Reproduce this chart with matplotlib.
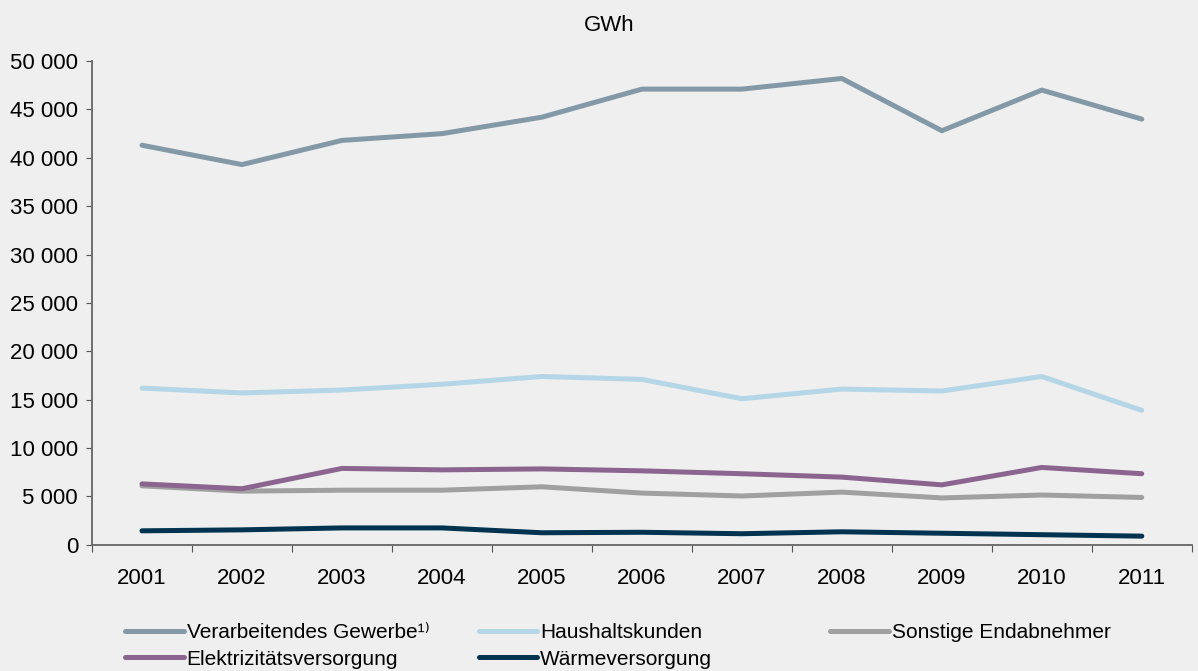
import matplotlib.pyplot as plt
from matplotlib.ticker import FuncFormatter, FixedLocator

plt.rcParams['font.family'] = ['Liberation Sans', 'DejaVu Sans']

years = ['2001', '2002', '2003', '2004', '2005', '2006',
         '2007', '2008', '2009', '2010', '2011']

verarbeitend = [41300, 39300, 41800, 42500, 44200, 47100, 47100, 48200, 42800, 47000, 44000]
haushalt = [16200, 15700, 16000, 16600, 17400, 17100, 15100, 16100, 15900, 17400, 13900]
sonstige = [6100, 5550, 5650, 5650, 6000, 5350, 5050, 5450, 4850, 5150, 4900]
elektrizitaet = [6300, 5800, 7900, 7750, 7850, 7650, 7350, 7000, 6200, 8000, 7350]
waerme = [1450, 1550, 1750, 1750, 1250, 1300, 1150, 1350, 1200, 1050, 900]

bg = '#eeefee'
fig = plt.figure(figsize=(11.98, 6.71), dpi=100, facecolor=bg)
ax = fig.add_axes([0.0768, 0.188, 0.918, 0.721], facecolor=bg)

x = list(range(len(years)))
lw = 3.6
l1, = ax.plot(x, verarbeitend, color='#8499a7', lw=lw, solid_capstyle='round')
l2, = ax.plot(x, haushalt, color='#b4d6e6', lw=lw, solid_capstyle='round')
l3, = ax.plot(x, sonstige, color='#a0a0a0', lw=lw, solid_capstyle='round')
l4, = ax.plot(x, elektrizitaet, color='#8c6490', lw=lw, solid_capstyle='round')
l5, = ax.plot(x, waerme, color='#00334f', lw=lw, solid_capstyle='round')

ax.set_xlim(-0.5, len(years) - 0.5)
ax.set_ylim(0, 50000)
ax.set_yticks(range(0, 50001, 5000))
ax.yaxis.set_major_formatter(FuncFormatter(lambda v, p: f'{int(v):,}'.replace(',', ' ')))

ax.xaxis.set_major_locator(FixedLocator([i - 0.5 for i in range(len(years) + 1)]))
ax.xaxis.set_major_formatter(FuncFormatter(lambda v, p: ''))
ax.set_xticks(x, minor=True)
ax.set_xticklabels(years, minor=True)
ax.tick_params(axis='x', which='minor', length=0, pad=17, labelsize=16)
ax.tick_params(axis='x', which='major', length=5, color='#555555', direction='out')
ax.tick_params(axis='y', length=4, color='#555555', direction='out', labelsize=16, pad=6)

for s in ['top', 'right']:
    ax.spines[s].set_visible(False)
for s in ['left', 'bottom']:
    ax.spines[s].set_color('#666666')
    ax.spines[s].set_linewidth(1.3)

fig.text(0.5085, 0.962, 'GWh', ha='center', va='center', fontsize=16)

leg_font = {'family': ['Liberation Sans', 'DejaVu Sans'], 'size': 15}
cols = [([l1, l4], ['Verarbeitendes Gewerbe¹⁾', 'Elektrizitätsversorgung'], 0.1045),
        ([l2, l5], ['Haushaltskunden', 'Wärmeversorgung'], 0.3995),
        ([l3], ['Sonstige Endabnehmer'], 0.693)]
for hs, labs, xpos in cols:
    fig.legend(hs, labs, loc='upper left', bbox_to_anchor=(xpos, 0.071),
               frameon=False, prop=leg_font, handlelength=2.8, handletextpad=0.15,
               labelspacing=0.35, borderaxespad=0, borderpad=0)

fig.savefig('out.png', dpi=100, facecolor=bg)
